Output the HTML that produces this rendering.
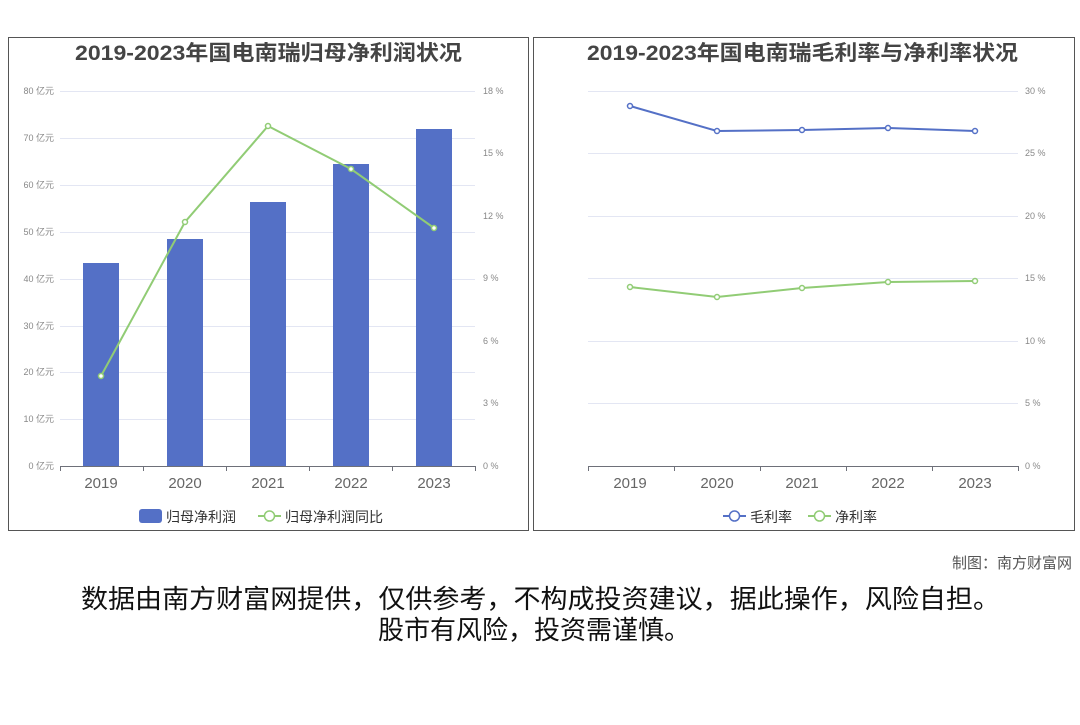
<!DOCTYPE html>
<html><head><meta charset="utf-8"><style>
html,body{margin:0;padding:0;background:#fff;}
body{width:1080px;height:720px;overflow:hidden;font-family:"Liberation Sans","Noto Sans CJK SC",sans-serif;}
svg text{font-family:"Liberation Sans","Noto Sans CJK SC",sans-serif;}
</style></head><body>
<svg width="1080" height="720" xmlns="http://www.w3.org/2000/svg">
<rect x="8.5" y="37.5" width="520" height="493" fill="none" stroke="#555" stroke-width="1"/>
<rect x="533.5" y="37.5" width="541" height="493" fill="none" stroke="#555" stroke-width="1"/>
<text x="75" y="60" font-size="21" font-weight="bold" fill="#444" textLength="387" lengthAdjust="spacingAndGlyphs">2019-2023年国电南瑞归母净利润状况</text>
<text x="587" y="60" font-size="21" font-weight="bold" fill="#444" textLength="431" lengthAdjust="spacingAndGlyphs">2019-2023年国电南瑞毛利率与净利率状况</text>
<g stroke="#e3e6f3" stroke-width="1">
<line x1="60" x2="475" y1="91.5" y2="91.5"/><line x1="60" x2="475" y1="138.5" y2="138.5"/>
<line x1="60" x2="475" y1="185.5" y2="185.5"/><line x1="60" x2="475" y1="232.5" y2="232.5"/>
<line x1="60" x2="475" y1="279.5" y2="279.5"/><line x1="60" x2="475" y1="326.5" y2="326.5"/>
<line x1="60" x2="475" y1="372.5" y2="372.5"/><line x1="60" x2="475" y1="419.5" y2="419.5"/>
</g>
<g font-size="9" fill="#888" text-anchor="end">
<text x="54" y="94">80 亿元</text><text x="54" y="141">70 亿元</text><text x="54" y="188">60 亿元</text>
<text x="54" y="235">50 亿元</text><text x="54" y="282">40 亿元</text><text x="54" y="329">30 亿元</text>
<text x="54" y="375">20 亿元</text><text x="54" y="422">10 亿元</text><text x="54" y="469">0 亿元</text>
</g>
<g font-size="9" fill="#888">
<text x="483" y="94">18 %</text><text x="483" y="156">15 %</text><text x="483" y="219">12 %</text>
<text x="483" y="281">9 %</text><text x="483" y="344">6 %</text><text x="483" y="406">3 %</text><text x="483" y="469">0 %</text>
</g>
<g fill="#5470c6">
<rect x="83" y="263" width="36" height="203"/><rect x="167" y="239" width="36" height="227"/>
<rect x="250" y="202" width="36" height="264"/><rect x="333" y="164" width="36" height="302"/>
<rect x="416" y="129" width="36" height="337"/>
</g>
<g stroke="#6e7079"><line x1="60" x2="475" y1="466.5" y2="466.5"/>
<line x1="60.5" x2="60.5" y1="466" y2="471"/><line x1="143.5" x2="143.5" y1="466" y2="471"/>
<line x1="226.5" x2="226.5" y1="466" y2="471"/><line x1="309.5" x2="309.5" y1="466" y2="471"/>
<line x1="392.5" x2="392.5" y1="466" y2="471"/><line x1="475.5" x2="475.5" y1="466" y2="471"/></g>
<g font-size="15" fill="#666" text-anchor="middle">
<text x="101" y="488">2019</text><text x="185" y="488">2020</text><text x="268" y="488">2021</text><text x="351" y="488">2022</text><text x="434" y="488">2023</text>
</g>
<polyline points="101,376 185,222 268,126 351,169 434,228" fill="none" stroke="#91cc75" stroke-width="2"/>
<g fill="#fff" stroke="#91cc75" stroke-width="1.5">
<circle cx="101" cy="376" r="2.5"/><circle cx="185" cy="222" r="2.5"/><circle cx="268" cy="126" r="2.5"/><circle cx="351" cy="169" r="2.5"/><circle cx="434" cy="228" r="2.5"/>
</g>
<rect x="139" y="509" width="23" height="14" rx="3" fill="#5470c6"/>
<text x="166" y="522" font-size="14" fill="#333">归母净利润</text>
<line x1="258" x2="281" y1="516" y2="516" stroke="#91cc75" stroke-width="2"/>
<circle cx="269.5" cy="516" r="5" fill="#fff" stroke="#91cc75" stroke-width="1.5"/>
<text x="285" y="522" font-size="14" fill="#333">归母净利润同比</text>
<g stroke="#e3e6f3" stroke-width="1">
<line x1="588" x2="1018" y1="91.5" y2="91.5"/><line x1="588" x2="1018" y1="153.5" y2="153.5"/>
<line x1="588" x2="1018" y1="216.5" y2="216.5"/><line x1="588" x2="1018" y1="278.5" y2="278.5"/>
<line x1="588" x2="1018" y1="341.5" y2="341.5"/><line x1="588" x2="1018" y1="403.5" y2="403.5"/>
</g>
<g font-size="9" fill="#888">
<text x="1025" y="94">30 %</text><text x="1025" y="156">25 %</text><text x="1025" y="219">20 %</text>
<text x="1025" y="281">15 %</text><text x="1025" y="344">10 %</text><text x="1025" y="406">5 %</text><text x="1025" y="469">0 %</text>
</g>
<g stroke="#6e7079"><line x1="588" x2="1018" y1="466.5" y2="466.5"/>
<line x1="588.5" x2="588.5" y1="466" y2="471"/><line x1="674.5" x2="674.5" y1="466" y2="471"/>
<line x1="760.5" x2="760.5" y1="466" y2="471"/><line x1="846.5" x2="846.5" y1="466" y2="471"/>
<line x1="932.5" x2="932.5" y1="466" y2="471"/><line x1="1018.5" x2="1018.5" y1="466" y2="471"/></g>
<g font-size="15" fill="#666" text-anchor="middle">
<text x="630" y="488">2019</text><text x="717" y="488">2020</text><text x="802" y="488">2021</text><text x="888" y="488">2022</text><text x="975" y="488">2023</text>
</g>
<polyline points="630,106 717,131 802,130 888,128 975,131" fill="none" stroke="#5470c6" stroke-width="2"/>
<g fill="#fff" stroke="#5470c6" stroke-width="1.5">
<circle cx="630" cy="106" r="2.5"/><circle cx="717" cy="131" r="2.5"/><circle cx="802" cy="130" r="2.5"/><circle cx="888" cy="128" r="2.5"/><circle cx="975" cy="131" r="2.5"/>
</g>
<polyline points="630,287 717,297 802,288 888,282 975,281" fill="none" stroke="#91cc75" stroke-width="2"/>
<g fill="#fff" stroke="#91cc75" stroke-width="1.5">
<circle cx="630" cy="287" r="2.5"/><circle cx="717" cy="297" r="2.5"/><circle cx="802" cy="288" r="2.5"/><circle cx="888" cy="282" r="2.5"/><circle cx="975" cy="281" r="2.5"/>
</g>
<line x1="723" x2="746" y1="516" y2="516" stroke="#5470c6" stroke-width="2"/>
<circle cx="734.5" cy="516" r="5" fill="#fff" stroke="#5470c6" stroke-width="1.5"/>
<text x="750" y="522" font-size="14" fill="#333">毛利率</text>
<line x1="808" x2="831" y1="516" y2="516" stroke="#91cc75" stroke-width="2"/>
<circle cx="819.5" cy="516" r="5" fill="#fff" stroke="#91cc75" stroke-width="1.5"/>
<text x="835" y="522" font-size="14" fill="#333">净利率</text>
<text x="1072" y="568" font-size="15" fill="#555" text-anchor="end">制图：南方财富网</text>
<text x="81" y="608" font-size="26" fill="#111" textLength="919" lengthAdjust="spacingAndGlyphs">数据由南方财富网提供，仅供参考，不构成投资建议，据此操作，风险自担。</text>
<text x="378" y="639" font-size="26" fill="#111" textLength="312" lengthAdjust="spacingAndGlyphs">股市有风险，投资需谨慎。</text>
</svg>
</body></html>
